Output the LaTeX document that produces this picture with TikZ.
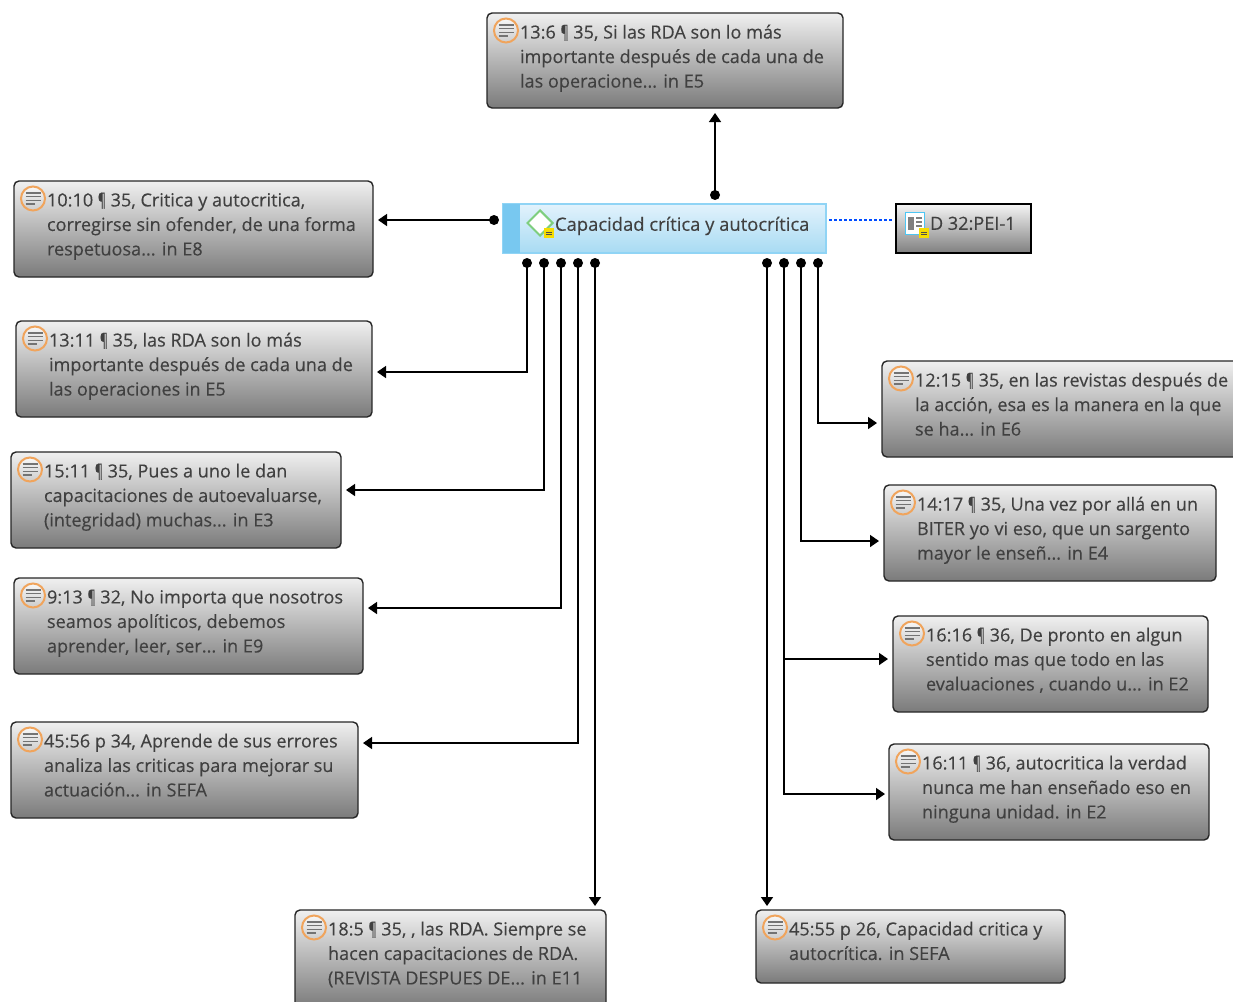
\documentclass[tikz,border=0pt]{standalone}
\usepackage{fontspec}
\setmainfont[FakeBold=0.25]{Open Sans}
\usetikzlibrary{arrows.meta,shapes.geometric,calc}
\definecolor{txt}{HTML}{404040}
\definecolor{bartop}{HTML}{E2F2FC}
\definecolor{barbot}{HTML}{A8DBF3}
\definecolor{barside}{HTML}{78C8F0}
\definecolor{barline}{HTML}{90D4F5}
\definecolor{ring}{HTML}{F0A45C}
\definecolor{notey}{HTML}{F5DC00}
\newcommand{\pil}{\scalebox{.68}[1]{¶}}
\tikzset{
  x=1pt,y=-1pt,
  graybox/.style={draw=black!85,line width=1.4pt,rounded corners=5pt,top color=black!6,bottom color=black!52,inner sep=0pt,outer sep=0pt},
  label/.style={anchor=north west,align=left,inner sep=0pt,outer sep=0pt,text=txt,font=\fontsize{18.1}{24.5}\selectfont},
  conn/.style={draw=black,line width=1.5pt,-{Triangle[length=9pt,width=12pt]}},
  dotmark/.style={circle,fill=black,inner sep=0pt,minimum size=10pt,outer sep=0pt},
  ringicon/.style={circle,draw=ring,line width=2pt,minimum size=24pt,inner sep=0pt,top color=black!3,bottom color=black!20},
}
\newcommand{\qbox}[6]{%
  \node[graybox,minimum width={(#4-#2)*1pt},minimum height={(#5-#3)*1pt}] (#1) at ({(#2+#4)/2},{(#3+#5)/2}) {};
  \node[ringicon] (#1i) at ({#2+19},{#3+17.5}) {};
  \foreach \k/\w in {-5.4/15,-1.8/15,1.8/15,5.4/9}{\draw[black!55,line width=1.5pt] ($(#1i.center)+(-7.5,\k)$) -- ++(\w,0);}
  \node[label] (#1t) at ({#2+33},{#3+11.7}) {#6};
}
\begin{document}
\begin{tikzpicture}
\useasboundingbox (0,0) rectangle (1233,1001);
\clip (0,0) rectangle (1233,1001);
\qbox{top}{487}{13}{843}{108}{13:6 \pil{} 35, Si las RDA son lo más\\importante después de cada una de\\las operacione... in E5}
\qbox{la}{14}{181}{373}{277}{10:10 \pil{} 35, Critica y autocritica,\\corregirse sin ofender, de una forma\\respetuosa... in E8}
\qbox{lb}{16}{321}{372}{417}{13:11 \pil{} 35, las RDA son lo más\\importante después de cada una de\\las operaciones in E5}
\qbox{lc}{11}{452}{341}{548}{15:11 \pil{} 35, Pues a uno le dan\\capacitaciones de autoevaluarse,\\(integridad) muchas... in E3}
\qbox{ld}{14}{578}{363}{674}{9:13 \pil{} 32, No importa que nosotros\\seamos apolíticos, debemos\\aprender, leer, ser... in E9}
\qbox{le}{11}{722}{358}{818}{45:56 p 34, Aprende de sus errores\\analiza las criticas para mejorar su\\actuación... in SEFA}
\qbox{bl}{295}{910}{606}{1008}{18:5 \pil{} 35, , las RDA. Siempre se\\hacen capacitaciones de RDA.\\(REVISTA DESPUES DE... in E11}
\qbox{br}{756}{910}{1065}{983}{45:55 p 26, Capacidad critica y\\autocrítica. in SEFA}
\qbox{ra}{882}{361}{1242}{457}{12:15 \pil{} 35, en las revistas después de\\la acción, esa es la manera en la que\\se ha... in E6}
\qbox{rb}{884}{485}{1216}{581}{14:17 \pil{} 35, Una vez por allá en un\\BITER yo vi eso, que un sargento\\mayor le enseñ... in E4}
\qbox{rc}{893}{616}{1208}{712}{16:16 \pil{} 36, De pronto en algun\\sentido mas que todo en las\\evaluaciones , cuando u... in E2}
\qbox{rd}{889}{744}{1209}{840}{16:11 \pil{} 36, autocritica la verdad\\nunca me han enseñado eso en\\ninguna unidad. in E2}
% main code node
\node[draw=barline,line width=1.2pt,top color=bartop,bottom color=barbot,minimum width=323pt,minimum height=49pt,inner sep=0pt,outer sep=0pt] (main) at (664.5,228.5) {};
\fill[barside] (main.north west) rectangle ($(main.south west)+(17,0)$);
\node[diamond,draw=green!45!gray!70,line width=2pt,fill=white,minimum width=26pt,minimum height=26pt,inner sep=0pt] (mainicon) at (540,223) {};
\node[fill=notey,minimum size=10pt,inner sep=0pt] (mainnote) at (549,233) {};
\draw[black!70,line width=.8pt] (546,232)--(552,232) (546,234.5)--(552,234.5);
\node[label,font=\fontsize{18.4}{24.5}\selectfont] (maint) at (555,216.7) {Capacidad crítica y autocrítica};
% document node
\node[draw=black,line width=1.4pt,top color=black!4,bottom color=black!50,minimum width=135pt,minimum height=49pt,inner sep=0pt,outer sep=0pt] (doc) at (963.5,228.5) {};
\node[draw=cyan!70,line width=1.6pt,fill=white,minimum width=19pt,minimum height=22pt,inner sep=0pt] (docicon) at (915,223.5) {};
\fill[black!50] (908,217) rectangle (914,230);
\draw[black!50,line width=1.2pt] (916,218)--(922,218) (916,222)--(922,222) (916,226)--(922,226);
\node[fill=notey,minimum size=10pt,inner sep=0pt] (docnote) at (924,233) {};
\draw[black!70,line width=.8pt] (921,232)--(927,232) (921,234.5)--(927,234.5);
\node[label] (doct) at (930,216.7) {D 32:PEI-1};
% connector dots
\foreach \n/\px/\py in {dt/715/195,dw/494/220,d1/527/263,d2/544/263,d3/561/263,d4/578/263,d5/595/263,e1/767/263,e2/784/263,e3/801/263,e4/818/263}
  \node[dotmark] (\n) at (\px,\py) {};
% connectors
\draw[conn] (dt.center) -- (dt.center |- 0,113);
\draw[conn] (dw.center) -- (378,220);
\draw[conn] (d1.center) |- (377,372);
\draw[conn] (d2.center) |- (346,490);
\draw[conn] (d3.center) |- (368,608);
\draw[conn] (d4.center) |- (363,743);
\draw[conn] (d5.center) -- (d5.center |- 0,906);
\draw[conn] (e1.center) -- (e1.center |- 0,906);
\draw[conn] (e2.center) |- (885,794);
\draw[conn] (e2.center |- 0,659) -- (888,659);
\draw[conn] (e3.center) |- (879,541);
\draw[conn] (e4.center) |- (877,423);
\draw[blue!70!cyan,line width=1.3pt,dash pattern=on 3pt off 2pt] (829,220) -- (893,220);
\end{tikzpicture}
\end{document}
